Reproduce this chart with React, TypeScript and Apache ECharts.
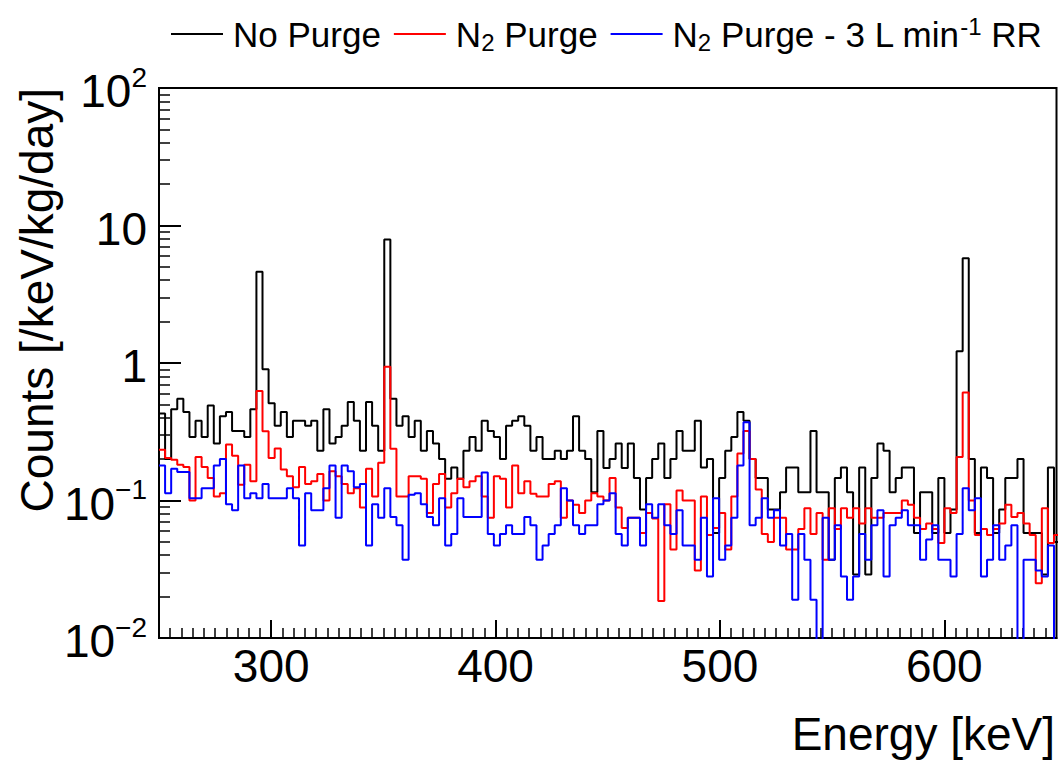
import React, { useEffect, useRef } from 'react';
import * as echarts from 'echarts';

const FONT = '"Liberation Sans", Arial, Helvetica, sans-serif';

// Histogram binning (keV)
const BIN_START = 250;
const BIN_WIDTH = 2.7135;

const seriesNames = ['No Purge', 'N\u2082 Purge', 'N\u2082 Purge - 3 L min\u207B\u00B9 RR'];

// Counts [/keV/kg/day] per bin
const noPurge = [
  0.43, 0.20, 0.46, 0.55, 0.44, 0.29, 0.38, 0.29, 0.49, 0.26,
  0.41, 0.44, 0.32, 0.32, 0.29, 0.46, 4.6, 0.90, 0.51, 0.35,
  0.44, 0.29, 0.38, 0.38, 0.35, 0.38, 0.23, 0.46, 0.26, 0.29,
  0.35, 0.52, 0.38, 0.23, 0.52, 0.35, 0.23, 7.9, 0.55, 0.35,
  0.41, 0.29, 0.38, 0.23, 0.32, 0.26, 0.20, 0.144, 0.174, 0.144,
  0.23, 0.29, 0.23, 0.38, 0.32, 0.29, 0.20, 0.35, 0.38, 0.41,
  0.35, 0.23, 0.29, 0.20, 0.20, 0.23, 0.20, 0.23, 0.41, 0.23,
  0.20, 0.115, 0.32, 0.172, 0.20, 0.26, 0.172, 0.26, 0.146, 0.086,
  0.146, 0.20, 0.26, 0.146, 0.20, 0.32, 0.23, 0.23, 0.38, 0.174,
  0.20, 0.058, 0.146, 0.23, 0.29, 0.44, 0.38, 0.20, 0.146, 0.146,
  0.086, 0.086, 0.115, 0.174, 0.174, 0.115, 0.115, 0.32, 0.115, 0.115,
  0.037, 0.146, 0.174, 0.115, 0.029, 0.174, 0.029, 0.146, 0.26, 0.23,
  0.115, 0.146, 0.174, 0.174, 0.058, 0.115, 0.115, 0.058, 0.146, 0.058,
  0.086, 1.22, 5.78, 0.20, 0.058, 0.174, 0.146, 0.058, 0.086, 0.146,
  0.146, 0.20, 0.058, 0.058, 0.058, 0.029, 0.174, 0.05,
];

const n2Purge = [
  0.234, 0.204, 0.198, 0.182, 0.175, 0.100, 0.207, 0.175, 0.146, 0.107,
  0.113, 0.255, 0.212, 0.130, 0.182, 0.138, 0.625, 0.319, 0.204, 0.239,
  0.168, 0.150, 0.125, 0.175, 0.132, 0.138, 0.156, 0.100, 0.163, 0.150,
  0.132, 0.113, 0.123, 0.089, 0.170, 0.107, 0.188, 0.94, 0.238, 0.107,
  0.107, 0.150, 0.150, 0.144, 0.081, 0.132, 0.156, 0.089, 0.113, 0.144,
  0.125, 0.138, 0.150, 0.107, 0.075, 0.150, 0.144, 0.089, 0.180, 0.113,
  0.138, 0.112, 0.107, 0.107, 0.132, 0.138, 0.075, 0.100, 0.093, 0.081,
  0.100, 0.113, 0.107, 0.100, 0.146, 0.089, 0.063, 0.075, 0.075, 0.058,
  0.081, 0.074, 0.0186, 0.094, 0.044, 0.118, 0.100, 0.100, 0.031, 0.107,
  0.056, 0.063, 0.081, 0.044, 0.107, 0.22, 0.32, 0.20, 0.12, 0.057,
  0.050, 0.075, 0.075, 0.044, 0.044, 0.062, 0.088, 0.057, 0.081, 0.037,
  0.088, 0.062, 0.088, 0.075, 0.088, 0.068, 0.088, 0.075, 0.075, 0.081,
  0.081, 0.081, 0.100, 0.093, 0.075, 0.062, 0.068, 0.062, 0.049, 0.088,
  0.081, 0.207, 0.61, 0.100, 0.056, 0.062, 0.056, 0.062, 0.068, 0.093,
  0.076, 0.081, 0.068, 0.056, 0.025, 0.088, 0.049, 0.056,
];

const n2PurgeRR = [
  0.180, 0.113, 0.170, 0.161, 0.161, 0.104, 0.104, 0.123, 0.123, 0.180,
  0.200, 0.094, 0.085, 0.180, 0.104, 0.113, 0.104, 0.132, 0.104, 0.104,
  0.104, 0.123, 0.104, 0.047, 0.113, 0.085, 0.085, 0.123, 0.180, 0.075,
  0.180, 0.163, 0.125, 0.132, 0.047, 0.094, 0.075, 0.123, 0.076, 0.066,
  0.037, 0.110, 0.113, 0.094, 0.076, 0.066, 0.104, 0.047, 0.057, 0.104,
  0.076, 0.076, 0.076, 0.160, 0.057, 0.047, 0.057, 0.066, 0.057, 0.057,
  0.076, 0.066, 0.037, 0.047, 0.057, 0.066, 0.123, 0.100, 0.066, 0.057,
  0.066, 0.066, 0.094, 0.100, 0.113, 0.057, 0.047, 0.075, 0.075, 0.047,
  0.094, 0.075, 0.094, 0.066, 0.057, 0.085, 0.047, 0.047, 0.037, 0.075,
  0.028, 0.104, 0.037, 0.047, 0.075, 0.180, 0.37, 0.066, 0.075, 0.104,
  0.075, 0.085, 0.047, 0.057, 0.019, 0.057, 0.037, 0.019, 0, 0.075,
  0.037, 0.066, 0.028, 0.019, 0.028, 0.057, 0.037, 0.066, 0.085, 0.028,
  0.066, 0.075, 0.085, 0.066, 0.066, 0.037, 0.052, 0.066, 0.037, 0.037,
  0.028, 0.057, 0.123, 0.085, 0.104, 0.028, 0.037, 0.066, 0.037, 0.047,
  0.066, 0, 0.037, 0.037, 0.031, 0.028, 0.047, 0,
];

// Tick values
const xMajorTicks = [300, 400, 500, 600];
const yMajorTicks = [0.01, 0.1, 1, 10, 100];

const xMinorTicks: number[] = [];
for (let v = 255; v < 650; v += 5) {
  if (v % 100 !== 0) xMinorTicks.push(v);
}
const yMinorTicks: number[] = [];
[0.01, 0.1, 1, 10].forEach((d) => {
  for (let m = 2; m <= 9; m++) yMinorTicks.push(+(d * m).toPrecision(3));
});

const toSteps = (vals: number[]) => {
  const pts: number[][] = vals.map((v, i) => [BIN_START + i * BIN_WIDTH, v > 0 ? v : 1e-4]);
  const last = vals[vals.length - 1];
  pts.push([BIN_START + vals.length * BIN_WIDTH, last > 0 ? last : 1e-4]);
  return pts;
};

const legendRich: Record<string, string> = {
  [seriesNames[0]]: '{t|No Purge}',
  [seriesNames[1]]: '{t|N}{sub|2}{t| Purge}',
  [seriesNames[2]]: '{t|N}{sub|2}{t| Purge - 3 L min}{sup|-1}{t| RR}',
};

const yLabel = (v: number) => {
  const e = Math.round(Math.log10(v));
  if (e === 0) return '{m|1}';
  if (e === 1) return '{m|10}';
  return `{m|10}{s|${e < 0 ? '\u2212' : ''}${Math.abs(e)}}`;
};

export default function App() {
  const ref = useRef<HTMLDivElement>(null);

  useEffect(() => {
    document.body.style.margin = '0';
    document.body.style.overflow = 'hidden';
    if (!ref.current) return;
    const chart = echarts.init(ref.current, null, { renderer: 'svg' });

    const colors = ['#000000', '#ff0000', '#0000ff'];
    const datasets = [noPurge, n2Purge, n2PurgeRR];

    const option: any = {
      animation: false,
      backgroundColor: '#ffffff',
      grid: {
        left: 159,
        right: 4.5,
        top: 88,
        bottom: 122,
        show: true,
        borderColor: '#000',
        borderWidth: 2,
        backgroundColor: 'transparent',
      },
      legend: {
        left: 170,
        top: 14,
        padding: 0,
        itemGap: 12,
        itemWidth: 52,
        itemHeight: 14,
        data: seriesNames,
        itemStyle: { opacity: 0 },
        formatter: (name: string) => legendRich[name] || name,
        textStyle: {
          padding: [0, 0, 0, 5],
          rich: {
            t: { fontSize: 35, fontFamily: FONT, color: '#000', lineHeight: 40 },
            sub: { fontSize: 24, fontFamily: FONT, color: '#000', lineHeight: 24, verticalAlign: 'bottom' },
            sup: { fontSize: 24, fontFamily: FONT, color: '#000', lineHeight: 24, verticalAlign: 'top' },
          },
        },
      },
      xAxis: [
        {
          type: 'value',
          min: 250,
          max: 650,
          position: 'bottom',
          axisLine: { show: true, lineStyle: { color: '#000', width: 2 } },
          axisTick: { show: true, inside: true, length: 10, customValues: xMinorTicks, lineStyle: { color: '#000', width: 1.5 } },
          axisLabel: { show: false },
          splitLine: { show: false },
        },
        {
          type: 'value',
          min: 250,
          max: 650,
          position: 'bottom',
          axisLine: { show: false },
          axisTick: { show: true, inside: true, length: 18, customValues: xMajorTicks, lineStyle: { color: '#000', width: 2 } },
          axisLabel: {
            show: true,
            customValues: xMajorTicks,
            fontSize: 46,
            fontFamily: FONT,
            color: '#000',
            margin: 5,
          },
          splitLine: { show: false },
        },
      ],
      yAxis: [
        {
          type: 'log',
          logBase: 10,
          min: 0.01,
          max: 100,
          position: 'left',
          axisLine: { show: true, lineStyle: { color: '#000', width: 2 } },
          axisTick: { show: true, inside: true, length: 11, customValues: yMinorTicks, lineStyle: { color: '#000', width: 1.5 } },
          axisLabel: { show: false },
          splitLine: { show: false },
          minorTick: { show: false },
        },
        {
          type: 'log',
          logBase: 10,
          min: 0.01,
          max: 100,
          position: 'left',
          axisLine: { show: false },
          axisTick: { show: true, inside: true, length: 22, customValues: yMajorTicks, lineStyle: { color: '#000', width: 2 } },
          axisLabel: {
            show: true,
            customValues: yMajorTicks,
            margin: 12,
            formatter: yLabel,
            rich: {
              m: { fontSize: 46, fontFamily: FONT, color: '#000', lineHeight: 50, padding: [6, 0, 0, 0] },
              s: { fontSize: 28, fontFamily: FONT, color: '#000', lineHeight: 28, verticalAlign: 'top' },
            },
          },
          splitLine: { show: false },
        },
      ],
      graphic: [
        {
          type: 'text',
          x: 37,
          y: 88,
          rotation: Math.PI / 2,
          style: {
            text: 'Counts [/keV/kg/day]',
            fontSize: 46,
            fontFamily: FONT,
            fill: '#000',
            textAlign: 'right',
            textVerticalAlign: 'middle',
            align: 'right',
            verticalAlign: 'middle',
          },
        },
        {
          type: 'text',
          x: 1055,
          y: 734,
          style: {
            text: 'Energy [keV]',
            fontSize: 46,
            fontFamily: FONT,
            fill: '#000',
            textAlign: 'right',
            textVerticalAlign: 'middle',
            align: 'right',
            verticalAlign: 'middle',
          },
        },
      ],
      series: datasets.map((d, i) => ({
        name: seriesNames[i],
        type: 'line',
        xAxisIndex: 0,
        yAxisIndex: 0,
        step: 'end',
        symbol: 'none',
        showSymbol: false,
        clip: true,
        data: toSteps(d),
        lineStyle: { color: colors[i], width: 2 },
        itemStyle: { color: colors[i] },
        z: 2 + i,
        silent: true,
      })),
    };

    chart.setOption(option);
    return () => chart.dispose();
  }, []);

  return <div ref={ref} style={{ width: 1061, height: 760 }} />;
}
